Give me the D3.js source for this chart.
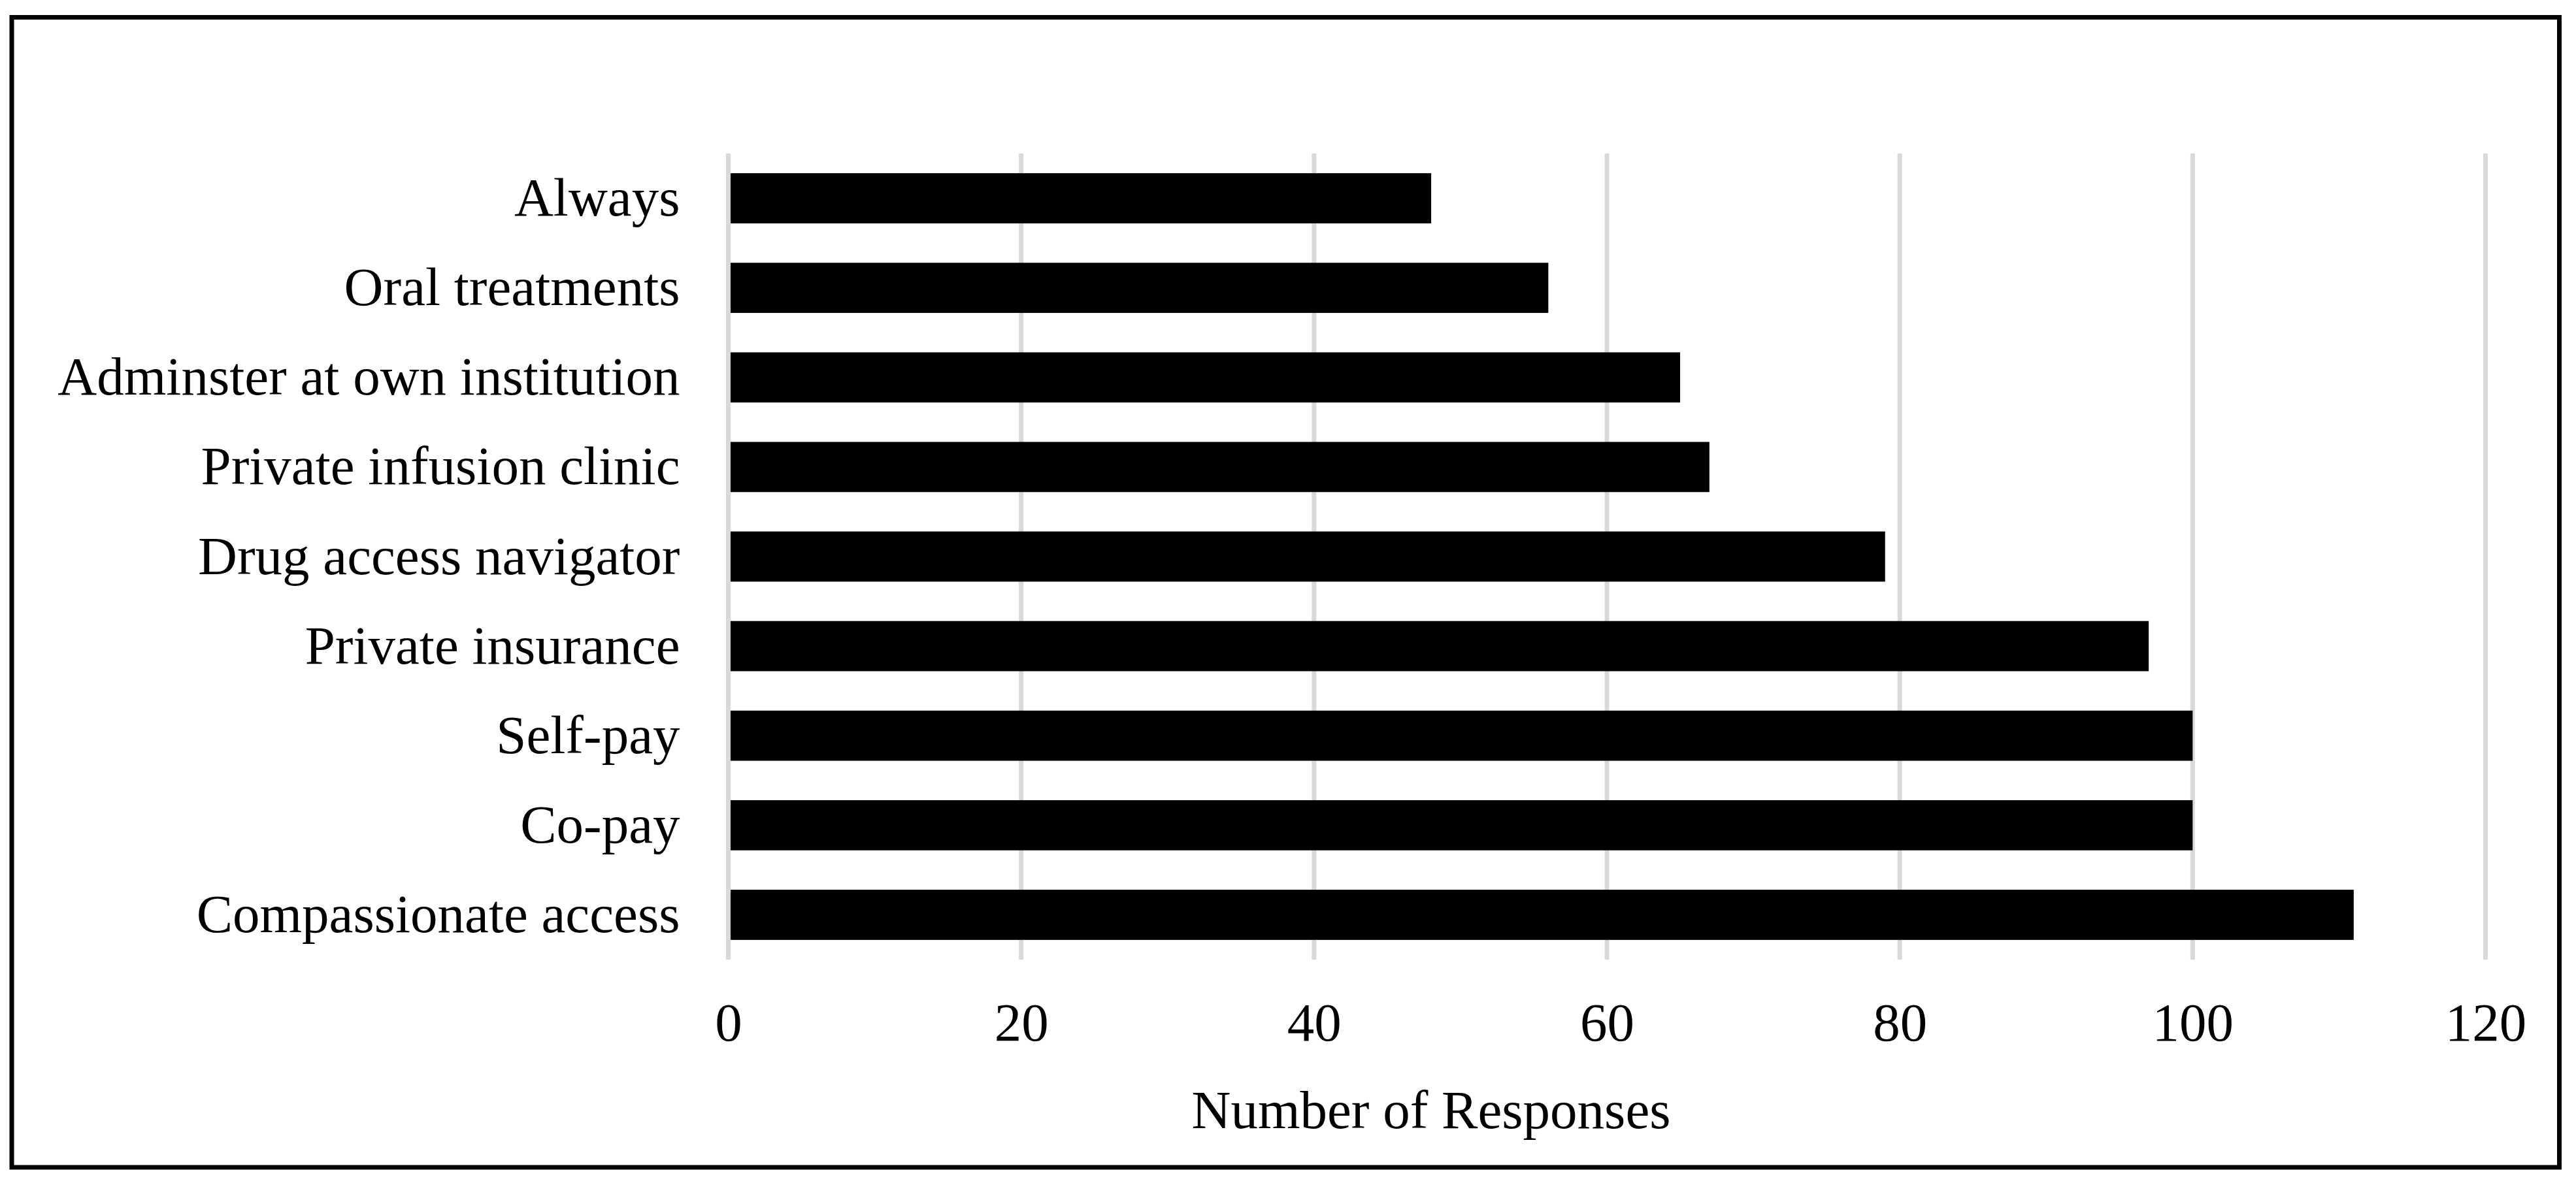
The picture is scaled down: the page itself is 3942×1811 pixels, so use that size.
<!DOCTYPE html>
<html>
<head>
<meta charset="utf-8">
<script src="https://cdn.jsdelivr.net/npm/d3@7"></script>
<style>
  html, body { margin: 0; padding: 0; background: #fff; }
  svg { display: block; }
  text { font-family: "Liberation Serif", "Times New Roman", serif; fill: #000; }
</style>
</head>
<body>
<svg id="chart" width="3942" height="1811"></svg>
<script>
// Data (top to bottom as drawn)
const categories = [
  "Always",
  "Oral treatments",
  "Adminster at own institution",
  "Private infusion clinic",
  "Drug access navigator",
  "Private insurance",
  "Self-pay",
  "Co-pay",
  "Compassionate access"
];
const responses = [48, 56, 65, 67, 79, 97, 100, 100, 111];
const xTicks = [0, 20, 40, 60, 80, 100, 120];
const xTitle = "Number of Responses";

const svg = d3.select("#chart");
const W = 3942, H = 1811;
const plot = { left: 1114.5, right: 3803.5, top: 235, bottom: 1469 };
const fontSize = 83;

// Outer border
svg.append("rect")
  .attr("x", 18).attr("y", 26.5)
  .attr("width", 3916.5 - 18).attr("height", 1787 - 26.5)
  .attr("fill", "#fff").attr("stroke", "#000").attr("stroke-width", 7);

const x = d3.scaleLinear().domain([0, 120]).range([plot.left, plot.right]);
const y = d3.scaleBand().domain(categories)
  .range([plot.top, plot.bottom]).paddingInner(0.44).paddingOuter(0.22);

// Gridlines
svg.append("g").selectAll("line").data(xTicks).join("line")
  .attr("x1", d => x(d)).attr("x2", d => x(d))
  .attr("y1", plot.top).attr("y2", plot.bottom)
  .attr("stroke", "#d9d9d9").attr("stroke-width", 7);

// Bars
svg.append("g").selectAll("rect").data(categories).join("rect")
  .attr("x", x(0) + 3.5)
  .attr("y", d => y(d))
  .attr("width", (d, i) => x(responses[i]) - x(0) - 3.5)
  .attr("height", y.bandwidth())
  .attr("fill", "#000");

// Y axis labels
const yAxis = d3.axisLeft(y).tickSize(0).tickPadding(0);
const yg = svg.append("g").attr("transform", `translate(${plot.left - 74},0)`).call(yAxis);
yg.select(".domain").remove();
yg.selectAll("text")
  .attr("font-size", fontSize)
  .attr("font-family", '"Liberation Serif", "Times New Roman", serif')
  .attr("fill", "#000")
  .attr("dy", "0.32em");

// X axis labels
const xAxis = d3.axisBottom(x).tickValues(xTicks).tickSize(0).tickPadding(0).tickFormat(d3.format("d"));
const xg = svg.append("g").attr("transform", `translate(0,1593)`).call(xAxis);
xg.select(".domain").remove();
xg.selectAll("text")
  .attr("font-size", fontSize)
  .attr("font-family", '"Liberation Serif", "Times New Roman", serif')
  .attr("fill", "#000")
  .attr("dy", 0)
  .attr("y", 0);

// X axis title
svg.append("text")
  .attr("x", 2190).attr("y", 1727)
  .attr("text-anchor", "middle")
  .attr("font-size", fontSize)
  .text(xTitle);
</script>
</body>
</html>
